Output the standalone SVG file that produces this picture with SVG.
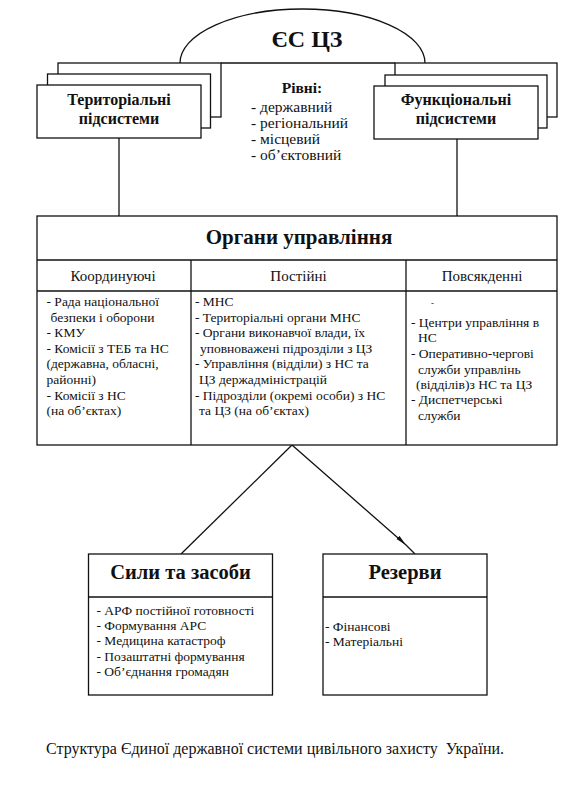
<svg xmlns="http://www.w3.org/2000/svg" width="588" height="808" viewBox="0 0 588 808" font-family="'Liberation Serif', 'DejaVu Serif', serif">
  <style>
    .box { fill: #ffffff; stroke: #111111; stroke-width: 1.3; }
    .ln { fill: none; stroke: #111111; stroke-width: 1.3; }
    .tx { font-family: 'Liberation Serif', 'DejaVu Serif', serif; fill: #111111; }
    .t-main { font-size: 24px; font-weight: bold; text-anchor: middle; }
    .t-sub { font-size: 16px; font-weight: bold; text-anchor: middle; }
    .t-big { font-size: 20.5px; font-weight: bold; text-anchor: middle; }
    .t-hdr { font-size: 15px; text-anchor: middle; }
    .t-lvl { font-size: 15.5px; }
    .t-item { font-size: 13.5px; }
    .t-cap { font-size: 16px; }
  </style>
  <defs>
    <marker id="arrow" markerUnits="userSpaceOnUse" markerWidth="12" markerHeight="6" refX="11" refY="3" orient="auto">
      <path d="M0,0.8 L11,3 L0,5.2 Z" fill="#111111"/>
    </marker>
  </defs>
  <rect width="588" height="808" fill="#ffffff"/>

  <g id="connectors">
    <line class="ln" x1="119" y1="138" x2="119" y2="216"/>
    <line class="ln" x1="457" y1="139" x2="457" y2="216"/>
    <line class="ln" x1="292" y1="445" x2="181" y2="554"/>
    <path class="ln" d="M292,445 L406,545 L415,554" marker-mid="url(#arrow)"/>
  </g>

  <g id="node-escz" class="tx">
    <line class="ln" x1="221" y1="63" x2="395" y2="63"/>
    <path class="ln" d="M180,63 A122.5,54 0 0 1 425,63"/>
    <text class="tx t-main" x="307" y="47">ЄС ЦЗ</text>
  </g>

  <g id="node-territorial" class="tx">
    <rect class="box" x="58" y="63" width="163" height="54"/>
    <rect class="box" x="47.5" y="74" width="163" height="54"/>
    <rect class="box" x="37" y="85" width="164" height="53"/>
    <text class="tx t-sub" x="119" y="104.5">Територіальні</text>
    <text class="tx t-sub" x="119" y="124">підсистеми</text>
  </g>

  <g id="node-functional" class="tx">
    <rect class="box" x="395" y="63" width="162" height="54"/>
    <rect class="box" x="385" y="75" width="162" height="53"/>
    <rect class="box" x="374" y="86" width="164" height="53"/>
    <text class="tx t-sub" x="456" y="104.5">Функціональні</text>
    <text class="tx t-sub" x="456" y="124">підсистеми</text>
  </g>

  <g id="node-levels" class="tx">
    <text class="tx t-sub" x="302" y="93" style="font-size:15.5px">Рівні:</text>
    <text class="tx t-lvl" x="251" y="112">- державний</text>
    <text class="tx t-lvl" x="251" y="128">- регіональний</text>
    <text class="tx t-lvl" x="251" y="144">- місцевий</text>
    <text class="tx t-lvl" x="251" y="160">- об’єктовний</text>
  </g>

  <g id="node-organs" class="tx">
    <rect class="box" x="37" y="216" width="520" height="229"/>
    <line class="ln" x1="37" y1="260" x2="557" y2="260"/>
    <line class="ln" x1="37" y1="291" x2="557" y2="291"/>
    <line class="ln" x1="191" y1="260" x2="191" y2="445"/>
    <line class="ln" x1="406" y1="260" x2="406" y2="445"/>
    <text class="tx t-big" x="299" y="243.5" style="font-size:21px">Органи управління</text>
    <text class="tx t-hdr" x="113" y="281">Координуючі</text>
    <text class="tx t-hdr" x="298.5" y="281">Постійні</text>
    <text class="tx t-hdr" x="482" y="281">Повсякденні</text>

    <text class="tx t-item" x="46.5" y="306">- Рада національної</text>
    <text class="tx t-item" x="50.5" y="322">безпеки і оборони</text>
    <text class="tx t-item" x="46.5" y="337">- КМУ</text>
    <text class="tx t-item" x="46.5" y="353">- Комісії з ТЕБ та НС</text>
    <text class="tx t-item" x="46.5" y="368">(державна, обласні,</text>
    <text class="tx t-item" x="46.5" y="384">районні)</text>
    <text class="tx t-item" x="46.5" y="400">- Комісії з НС</text>
    <text class="tx t-item" x="46.5" y="415">(на об’єктах)</text>

    <text class="tx t-item" x="195" y="306">- МНС</text>
    <text class="tx t-item" x="195" y="322">- Територіальні органи МНС</text>
    <text class="tx t-item" x="195" y="337">- Органи виконавчої влади, їх</text>
    <text class="tx t-item" x="200" y="353">уповноважені підрозділи з ЦЗ</text>
    <text class="tx t-item" x="195" y="368">- Управління (відділи) з НС та</text>
    <text class="tx t-item" x="199" y="384">ЦЗ держадміністрацій</text>
    <text class="tx t-item" x="195" y="400">- Підрозділи (окремі особи) з НС</text>
    <text class="tx t-item" x="199" y="415">та ЦЗ (на об’єктах)</text>

    <text class="tx t-item" x="431" y="306" style="font-size:9px">-</text>
    <text class="tx t-item" x="411" y="327">- Центри управління в</text>
    <text class="tx t-item" x="418" y="342">НС</text>
    <text class="tx t-item" x="411" y="358">- Оперативно-чергові</text>
    <text class="tx t-item" x="418" y="374">служби управлінь</text>
    <text class="tx t-item" x="416" y="389">(відділів)з НС та ЦЗ</text>
    <text class="tx t-item" x="411" y="404">- Диспетчерські</text>
    <text class="tx t-item" x="418" y="420">служби</text>
  </g>

  <g id="node-forces" class="tx">
    <rect class="box" x="88.5" y="554" width="184" height="141"/>
    <line class="ln" x1="88.5" y1="597" x2="272.5" y2="597"/>
    <text class="tx t-big" x="180.5" y="579">Сили та засоби</text>
    <text class="tx t-item" x="96.5" y="615">- АРФ постійної готовності</text>
    <text class="tx t-item" x="96.5" y="630">- Формування АРС</text>
    <text class="tx t-item" x="96.5" y="645">- Медицина катастроф</text>
    <text class="tx t-item" x="96.5" y="660.5">- Позаштатні формування</text>
    <text class="tx t-item" x="96.5" y="676">- Об’єднання громадян</text>
  </g>

  <g id="node-reserves" class="tx">
    <rect class="box" x="323" y="554" width="164" height="141"/>
    <line class="ln" x1="323" y1="597" x2="487" y2="597"/>
    <text class="tx t-big" x="405" y="579">Резерви</text>
    <text class="tx t-item" x="325" y="630.5">- Фінансові</text>
    <text class="tx t-item" x="325" y="645.5">- Матеріальні</text>
  </g>

  <g id="caption" class="tx">
    <text class="tx t-cap" x="46" y="754" xml:space="preserve">Структура Єдиної державної системи цивільного захисту  України.</text>
  </g>
</svg>
